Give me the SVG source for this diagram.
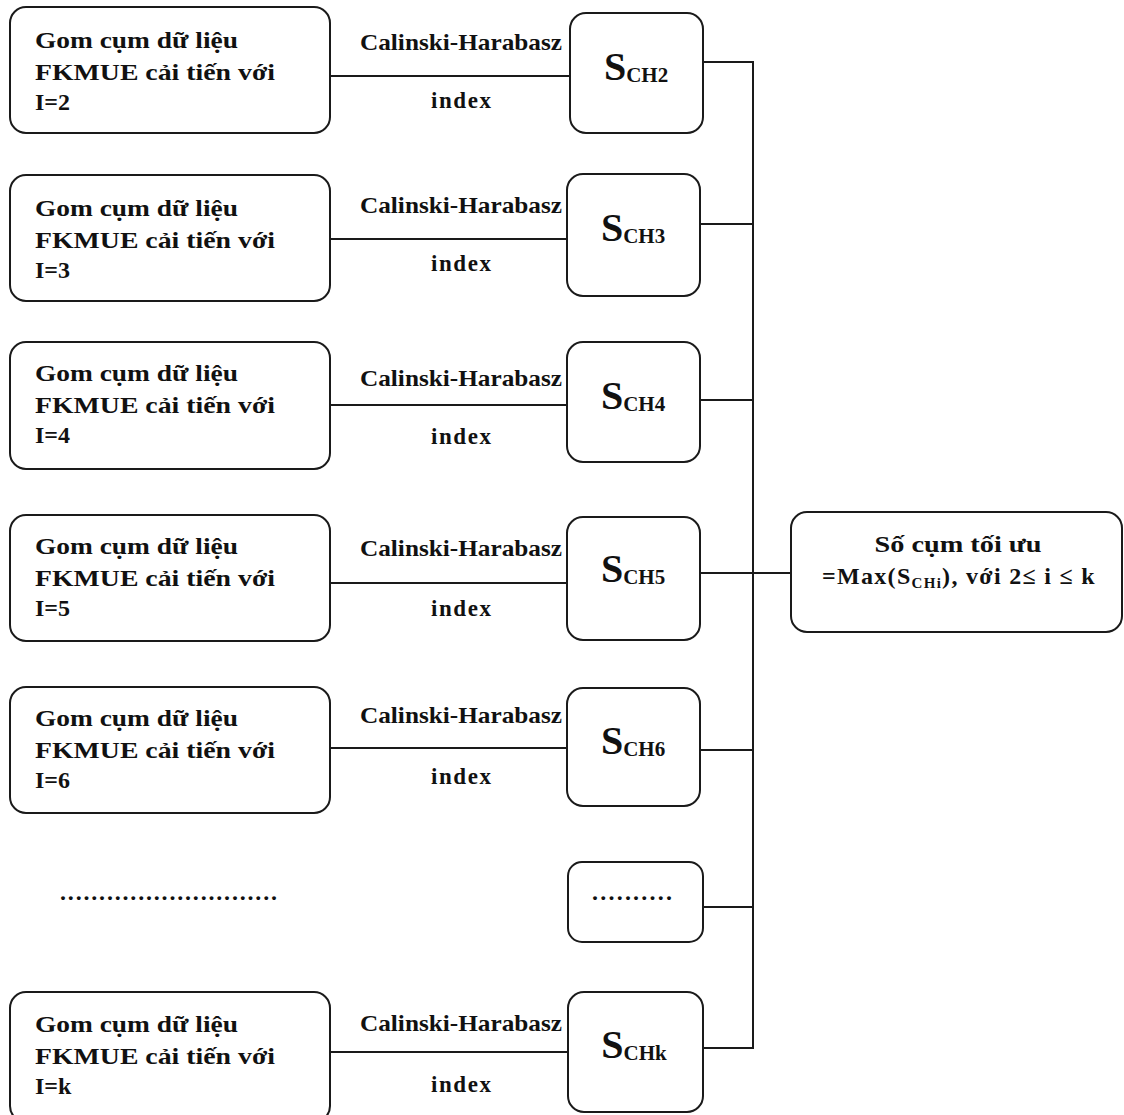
<svg xmlns="http://www.w3.org/2000/svg" width="1124" height="1115" viewBox="0 0 1124 1115">
  <style>
    .box { fill: #ffffff; stroke: #1a1a1a; stroke-width: 2; }
    .wire { fill: none; stroke: #1a1a1a; stroke-width: 2; }
    text { font-family: "Liberation Serif", "Times New Roman", serif; font-weight: bold; fill: #111111; }
    .lbl { font-size: 24px; }
    .idx { font-size: 23px; }
    .s { font-size: 40px; }
    .sub { font-size: 21px; }
    .res { font-size: 24px; }
  </style>

  <!-- connectors -->
  <g id="connectors">
    <line class="wire" x1="330" y1="76" x2="570" y2="76"/>
    <line class="wire" x1="330" y1="239" x2="568" y2="239"/>
    <line class="wire" x1="330" y1="405" x2="568" y2="405"/>
    <line class="wire" x1="330" y1="583" x2="568" y2="583"/>
    <line class="wire" x1="330" y1="748" x2="568" y2="748"/>
    <line class="wire" x1="330" y1="1052" x2="568" y2="1052"/>
    <line class="wire" x1="703" y1="62" x2="753" y2="62"/>
    <line class="wire" x1="700" y1="224" x2="753" y2="224"/>
    <line class="wire" x1="700" y1="400" x2="753" y2="400"/>
    <line class="wire" x1="700" y1="573" x2="791" y2="573"/>
    <line class="wire" x1="700" y1="750" x2="753" y2="750"/>
    <line class="wire" x1="703" y1="907" x2="753" y2="907"/>
    <line class="wire" x1="703" y1="1048" x2="753" y2="1048"/>
    <line class="wire" x1="753" y1="61" x2="753" y2="1049"/>
  </g>

  <!-- edge labels -->
  <g id="edge-labels">
    <text class="idx" x="461" y="50" text-anchor="middle" textLength="202" lengthAdjust="spacingAndGlyphs">Calinski-Harabasz</text>
    <text class="idx" x="461" y="108" text-anchor="middle" textLength="60" lengthAdjust="spacing">index</text>
    <text class="idx" x="461" y="213" text-anchor="middle" textLength="202" lengthAdjust="spacingAndGlyphs">Calinski-Harabasz</text>
    <text class="idx" x="461" y="271" text-anchor="middle" textLength="60" lengthAdjust="spacing">index</text>
    <text class="idx" x="461" y="386" text-anchor="middle" textLength="202" lengthAdjust="spacingAndGlyphs">Calinski-Harabasz</text>
    <text class="idx" x="461" y="444" text-anchor="middle" textLength="60" lengthAdjust="spacing">index</text>
    <text class="idx" x="461" y="556" text-anchor="middle" textLength="202" lengthAdjust="spacingAndGlyphs">Calinski-Harabasz</text>
    <text class="idx" x="461" y="616" text-anchor="middle" textLength="60" lengthAdjust="spacing">index</text>
    <text class="idx" x="461" y="723" text-anchor="middle" textLength="202" lengthAdjust="spacingAndGlyphs">Calinski-Harabasz</text>
    <text class="idx" x="461" y="784" text-anchor="middle" textLength="60" lengthAdjust="spacing">index</text>
    <text class="idx" x="461" y="1031" text-anchor="middle" textLength="202" lengthAdjust="spacingAndGlyphs">Calinski-Harabasz</text>
    <text class="idx" x="461" y="1092" text-anchor="middle" textLength="60" lengthAdjust="spacing">index</text>
  </g>

  <!-- clustering runs -->
  <g id="run-2">
    <rect class="box" x="10" y="7" width="320" height="126" rx="16"/>
    <text class="lbl" x="35" y="48" textLength="203" lengthAdjust="spacingAndGlyphs">Gom cụm dữ liệu</text>
    <text class="lbl" x="35" y="80" textLength="240" lengthAdjust="spacingAndGlyphs">FKMUE cải tiến với</text>
    <text class="lbl" x="35" y="110">I=2</text>
  </g>
  <g id="run-3">
    <rect class="box" x="10" y="175" width="320" height="126" rx="16"/>
    <text class="lbl" x="35" y="216" textLength="203" lengthAdjust="spacingAndGlyphs">Gom cụm dữ liệu</text>
    <text class="lbl" x="35" y="248" textLength="240" lengthAdjust="spacingAndGlyphs">FKMUE cải tiến với</text>
    <text class="lbl" x="35" y="278">I=3</text>
  </g>
  <g id="run-4">
    <rect class="box" x="10" y="342" width="320" height="127" rx="16"/>
    <text class="lbl" x="35" y="381" textLength="203" lengthAdjust="spacingAndGlyphs">Gom cụm dữ liệu</text>
    <text class="lbl" x="35" y="413" textLength="240" lengthAdjust="spacingAndGlyphs">FKMUE cải tiến với</text>
    <text class="lbl" x="35" y="443">I=4</text>
  </g>
  <g id="run-5">
    <rect class="box" x="10" y="515" width="320" height="126" rx="16"/>
    <text class="lbl" x="35" y="554" textLength="203" lengthAdjust="spacingAndGlyphs">Gom cụm dữ liệu</text>
    <text class="lbl" x="35" y="586" textLength="240" lengthAdjust="spacingAndGlyphs">FKMUE cải tiến với</text>
    <text class="lbl" x="35" y="616">I=5</text>
  </g>
  <g id="run-6">
    <rect class="box" x="10" y="687" width="320" height="126" rx="16"/>
    <text class="lbl" x="35" y="726" textLength="203" lengthAdjust="spacingAndGlyphs">Gom cụm dữ liệu</text>
    <text class="lbl" x="35" y="758" textLength="240" lengthAdjust="spacingAndGlyphs">FKMUE cải tiến với</text>
    <text class="lbl" x="35" y="788">I=6</text>
  </g>
  <g id="run-ellipsis">
    <text class="lbl" x="60" y="900" textLength="217" lengthAdjust="spacing">............................</text>
  </g>
  <g id="run-k">
    <rect class="box" x="10" y="992" width="320" height="130" rx="16"/>
    <text class="lbl" x="35" y="1032" textLength="203" lengthAdjust="spacingAndGlyphs">Gom cụm dữ liệu</text>
    <text class="lbl" x="35" y="1064" textLength="240" lengthAdjust="spacingAndGlyphs">FKMUE cải tiến với</text>
    <text class="lbl" x="35" y="1094">I=k</text>
  </g>

  <!-- index scores -->
  <g id="score-2">
    <rect class="box" x="570" y="13" width="133" height="120" rx="16"/>
    <text x="636" y="80" text-anchor="middle"><tspan class="s">S</tspan><tspan class="sub" dy="2">CH2</tspan></text>
  </g>
  <g id="score-3">
    <rect class="box" x="567" y="174" width="133" height="122" rx="16"/>
    <text x="633" y="241" text-anchor="middle"><tspan class="s">S</tspan><tspan class="sub" dy="2">CH3</tspan></text>
  </g>
  <g id="score-4">
    <rect class="box" x="567" y="342" width="133" height="120" rx="16"/>
    <text x="633" y="409" text-anchor="middle"><tspan class="s">S</tspan><tspan class="sub" dy="2">CH4</tspan></text>
  </g>
  <g id="score-5">
    <rect class="box" x="567" y="517" width="133" height="123" rx="16"/>
    <text x="633" y="582" text-anchor="middle"><tspan class="s">S</tspan><tspan class="sub" dy="2">CH5</tspan></text>
  </g>
  <g id="score-6">
    <rect class="box" x="567" y="688" width="133" height="118" rx="16"/>
    <text x="633" y="754" text-anchor="middle"><tspan class="s">S</tspan><tspan class="sub" dy="2">CH6</tspan></text>
  </g>
  <g id="score-ellipsis">
    <rect class="box" x="568" y="862" width="135" height="80" rx="14"/>
    <text class="lbl" x="592" y="900" textLength="80" lengthAdjust="spacing">..........</text>
  </g>
  <g id="score-k">
    <rect class="box" x="568" y="992" width="135" height="120" rx="16"/>
    <text x="634" y="1058" text-anchor="middle"><tspan class="s">S</tspan><tspan class="sub" dy="2">CHk</tspan></text>
  </g>

  <!-- optimum -->
  <g id="optimum">
    <rect class="box" x="791" y="512" width="331" height="120" rx="16"/>
    <text class="res" x="958" y="552" text-anchor="middle" textLength="167" lengthAdjust="spacingAndGlyphs">Số cụm tối ưu</text>
    <text class="res" x="959" y="584" text-anchor="middle" letter-spacing="1.3">=Max(S<tspan font-size="15px" dy="4">CHi</tspan><tspan dy="-4">), với 2≤ i ≤ k</tspan></text>
  </g>
</svg>
